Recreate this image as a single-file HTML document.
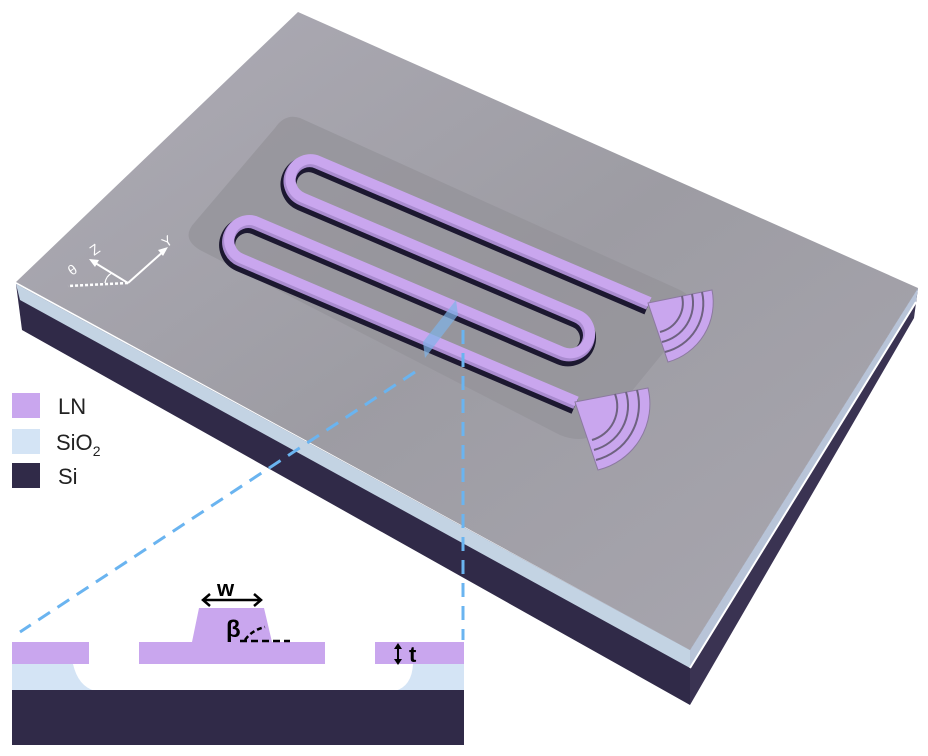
<!DOCTYPE html>
<html><head><style>body{margin:0;background:#fff}svg{display:block}</style></head><body>
<svg width="928" height="756" viewBox="0 0 928 756" xmlns="http://www.w3.org/2000/svg" font-family="Liberation Sans, sans-serif">
<defs>
<linearGradient id="top" x1="0" y1="0" x2="1" y2="1">
<stop offset="0" stop-color="#aeacb6"/><stop offset="0.5" stop-color="#9d9ca3"/><stop offset="1" stop-color="#a9a7b0"/></linearGradient>
</defs>
<!-- chip sides -->
<polygon points="16,284 690,650 690,705 22,330" fill="#302a48"/>
<polygon points="690,650 918,288 914,318 690,705" fill="#3a3352"/>
<polygon points="16,284 690,650 690,668 20,300" fill="#c3d3e3"/>
<polygon points="690,650 918,288 916,302 690,668" fill="#b8c4d8"/>
<line x1="690" y1="668" x2="916" y2="302" stroke="#fff" stroke-width="2"/>
<!-- top face -->
<polygon points="16,282 298,12 918,288 690,650" fill="url(#top)"/>
<path d="M300 118 L680 290 Q700 300 690 320 L600 430 Q585 445 560 435 L200 250 Q180 238 195 222 L275 128 Q285 113 300 118 Z" fill="#94939a" opacity="0.75"/>
<!-- waveguides -->
<g fill="none" stroke-linecap="butt">
<path d="M649.6 302 L318.4 160.8 A20 20 0 0 0 302.7 197.6 L577.8 314.8 A20 20 0 0 1 562.1 351.7 L257 221.7 A20 20 0 0 0 241.3 258.5 L576.7 401.4" stroke="#1c1830" stroke-width="16" transform="translate(-2,5)"/>
<path d="M649.6 302 L318.4 160.8 A20 20 0 0 0 302.7 197.6 L577.8 314.8 A20 20 0 0 1 562.1 351.7 L257 221.7 A20 20 0 0 0 241.3 258.5 L576.7 401.4" stroke="#a98bcf" stroke-width="12" transform="translate(-1,2)"/>
<path d="M649.6 302 L318.4 160.8 A20 20 0 0 0 302.7 197.6 L577.8 314.8 A20 20 0 0 1 562.1 351.7 L257 221.7 A20 20 0 0 0 241.3 258.5 L576.7 401.4" stroke="#c9a6ee" stroke-width="10"/>
</g>
<!-- gratings -->
<g fill="#c9a6ee" stroke="#8c7aa0" stroke-width="1">
<path d="M648 303 L712 290 A62 62 0 0 1 668 362 Z"/>
<path d="M575 402 L648 388 A68 68 0 0 1 598 470 Z"/>
</g>
<g fill="none" stroke="#6e6280" stroke-width="2">
<path d="M702 292 A50 50 0 0 1 665 352"/><path d="M692 294 A40 40 0 0 1 662 342"/><path d="M682 296 A30 30 0 0 1 660 332"/>
<path d="M637 390 A57 57 0 0 1 596 460"/><path d="M626 392 A46 46 0 0 1 594 450"/><path d="M615 394 A35 35 0 0 1 592 440"/>
</g>
<!-- plane -->
<polygon points="456,300 458,315 425,358 423,342" fill="#7fb3e8" opacity="0.7"/>
<!-- axes -->
<g stroke="#fff" stroke-width="2" fill="none">
<line x1="128" y1="283" x2="165" y2="250"/><line x1="128" y1="283" x2="92" y2="261"/>
<line x1="128" y1="283" x2="68" y2="286" stroke-dasharray="3,2" stroke-width="2.5"/>
<path d="M105 283 Q106 276 112 273" stroke-width="1.2"/>
</g>
<polygon points="168,247 158,250 163,256" fill="#fff"/>
<polygon points="89,259 99,260 95,267" fill="#fff"/>
<text x="94" y="256" fill="#fff" font-size="14" transform="rotate(-35 94 256)">Z</text>
<text x="166" y="248" fill="#fff" font-size="14" transform="rotate(-35 166 248)">Y</text>
<text x="72" y="276" fill="#fff" font-size="14" transform="rotate(-35 72 276)">θ</text>
<!-- dashed guides -->
<g stroke="#6ab4f0" stroke-width="3" stroke-dasharray="14,9" fill="none">
<line x1="415" y1="372" x2="20" y2="632"/><line x1="463" y1="330" x2="463" y2="640"/>
</g>
<!-- legend -->
<rect x="12" y="393" width="28" height="25" fill="#c9a6ee"/>
<rect x="12" y="429" width="28" height="25" fill="#d4e4f5"/>
<rect x="12" y="463" width="28" height="25" fill="#302a48"/>
<text x="58" y="414" font-size="22" fill="#222">LN</text>
<text x="56" y="450" font-size="22" fill="#222">SiO<tspan font-size="14" dy="6">2</tspan></text>
<text x="58" y="484" font-size="22" fill="#222">Si</text>
<!-- cross-section -->
<rect x="12" y="664" width="452" height="27" fill="#d4e4f5"/>
<path d="M73 664 Q78 686 95 691 L395 691 Q412 686 413 664 Z" fill="#fff"/>
<rect x="12" y="690" width="452" height="55" fill="#302a48"/>
<rect x="12" y="642" width="77" height="22" fill="#c9a6ee"/>
<rect x="139" y="642" width="186" height="22" fill="#c9a6ee"/>
<rect x="375" y="642" width="89" height="22" fill="#c9a6ee"/>
<polygon points="199,608 264,608 272,642 192,642" fill="#c9a6ee"/>
<g stroke="#000" stroke-width="2.5" fill="none">
<line x1="204" y1="600" x2="260" y2="600"/>
<polyline points="210,594 203,600 210,606"/><polyline points="254,594 261,600 254,606"/>
<line x1="240" y1="641" x2="290" y2="641" stroke-dasharray="7,4"/>
<path d="M245 640 Q252 630 265 627" stroke-dasharray="5,3"/>
<line x1="398" y1="647" x2="398" y2="661" stroke-width="2"/>
</g>
<polygon points="394,649 402,649 398,643" fill="#000"/><polygon points="394,659 402,659 398,665" fill="#000"/>
<text x="217" y="596" font-size="22" font-weight="bold">w</text>
<text x="226" y="637" font-size="24" font-weight="bold">β</text>
<text x="409" y="662" font-size="22" font-weight="bold">t</text>
</svg>
</body></html>
